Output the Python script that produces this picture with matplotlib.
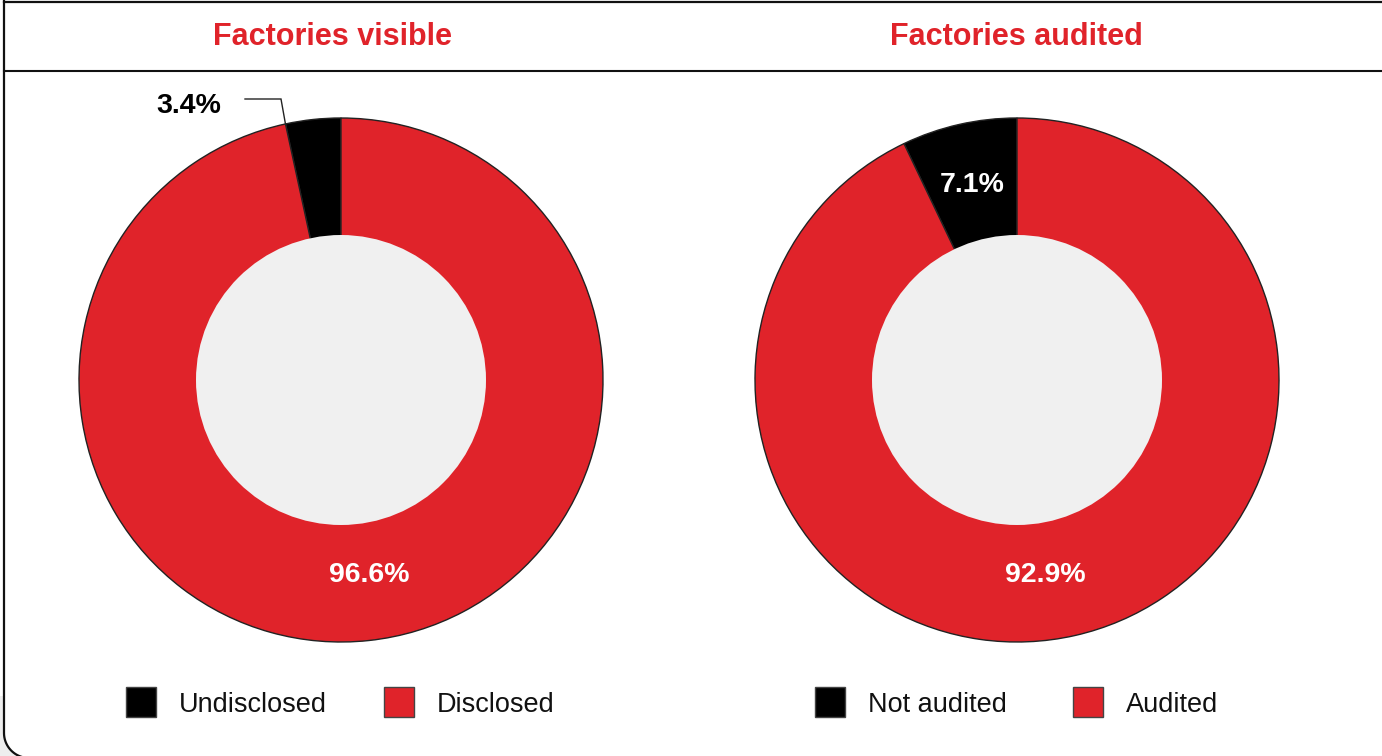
import matplotlib.pyplot as plt
import numpy as np
from matplotlib.patches import Rectangle, Circle, PathPatch
from matplotlib.path import Path

plt.rcParams['font.family'] = ['Liberation Sans', 'DejaVu Sans']

# ---------------------------------------------------------------------------
# Data
# ---------------------------------------------------------------------------
titles = ['Factories visible', 'Factories audited']
visible_labels = ['Undisclosed', 'Disclosed']
visible_values = [3.4, 96.6]
audited_labels = ['Not audited', 'Audited']
audited_values = [7.1, 92.9]

RED = '#e0232a'
BLACK = '#000000'
HOLE = '#f0f0f0'
slice_colors = [BLACK, RED]

W, H = 1382, 756
fig = plt.figure(figsize=(W / 100, H / 100), dpi=100)
ax = fig.add_axes([0, 0, 1, 1])


def Y(y):
    # image pixel row -> plot coordinate (y up)
    return H - y


def frame_path(x0, x1, y_bot, y_top, r):
    """Outline with rounded bottom corners (top runs off the picture)."""
    t1 = np.linspace(np.pi, 1.5 * np.pi, 20)
    t2 = np.linspace(1.5 * np.pi, 2 * np.pi, 20)
    xs = [x0] + list(x0 + r + r * np.cos(t1)) + list(x1 - r + r * np.cos(t2)) + [x1]
    ys = [y_top] + list(y_bot + r + r * np.sin(t1)) + list(y_bot + r + r * np.sin(t2)) + [y_top]
    return Path(np.column_stack([xs, ys]))


# layout (pixel positions in the picture)
centers = [(341, 380), (1017, 380)]
R_OUT, R_IN = 262, 145
title_x = [333, 1016]
legend_x = [(126, 384), (815, 1073)]
big_label_dx = 28
panels = [(visible_labels, visible_values), (audited_labels, audited_values)]

for k, (labels, values) in enumerate(panels):
    cx, cy = centers[k]
    wedges, _, autotexts = ax.pie(
        values, colors=slice_colors, startangle=90, counterclock=True,
        center=(cx, Y(cy)), radius=R_OUT, autopct='%.1f%%',
        pctdistance=0.765, frame=True,
        wedgeprops=dict(edgecolor='#222222', linewidth=1.0),
        textprops=dict(color='white', fontsize=20.5, fontweight='bold'))
    for w in wedges:
        w.set_zorder(2)
    ax.add_patch(Circle((cx, Y(cy)), R_IN, facecolor=HOLE,
                        edgecolor='none', zorder=3))
    # the large share sits just right of the bottom
    autotexts[1].set_position((cx + big_label_dx, Y(575)))
    for t in autotexts:
        t.set_zorder(4)

    if values[0] < 5:
        # small slice: label outside with a leader line
        autotexts[0].set_visible(False)
        th = np.deg2rad(wedges[0].theta2)
        px = cx + R_OUT * np.cos(th)
        py = Y(cy) + R_OUT * np.sin(th)
        ax.plot([245, 281, px], [Y(99), Y(99), py], color='#222222',
                lw=1.0, zorder=4, solid_joinstyle='miter')
        ax.text(189, Y(106), f'{values[0]:.1f}%', ha='center', va='center',
                fontsize=20.5, fontweight='bold', color='black')

    ax.text(title_x[k], Y(37), titles[k], ha='center', va='center',
            fontsize=22, fontweight='bold', color=RED)

    for j, lab in enumerate(labels):
        lx = legend_x[k][j]
        ax.add_patch(Rectangle((lx, Y(717)), 30, 30, facecolor=slice_colors[j],
                               edgecolor='#444444', linewidth=1.0, zorder=4))
        ax.text(lx + 53, Y(705), lab, ha='left', va='center',
                fontsize=19.5, color='#111111')

# frame around the whole panel (runs past the picture on top / right / bottom)
outline = frame_path(4, 1402, -2, H + 20, 25)
ax.add_patch(Rectangle((0, 0), W, 60, facecolor='#eeeeee',
                       edgecolor='none', zorder=0.1))
ax.add_patch(PathPatch(outline, facecolor='white', edgecolor='none',
                       zorder=0.2))
ax.add_patch(PathPatch(outline, facecolor='none', edgecolor='#111111',
                       linewidth=1.6, zorder=5))
ax.plot([4, W], [Y(2), Y(2)], color='#111111', lw=1.6, zorder=5)
ax.plot([4, W], [Y(71), Y(71)], color='#111111', lw=1.5, zorder=5)

ax.set_xlim(0, W)
ax.set_ylim(0, H)
ax.set_aspect('equal')
ax.axis('off')

fig.savefig('out.png', dpi=100, facecolor='white')
